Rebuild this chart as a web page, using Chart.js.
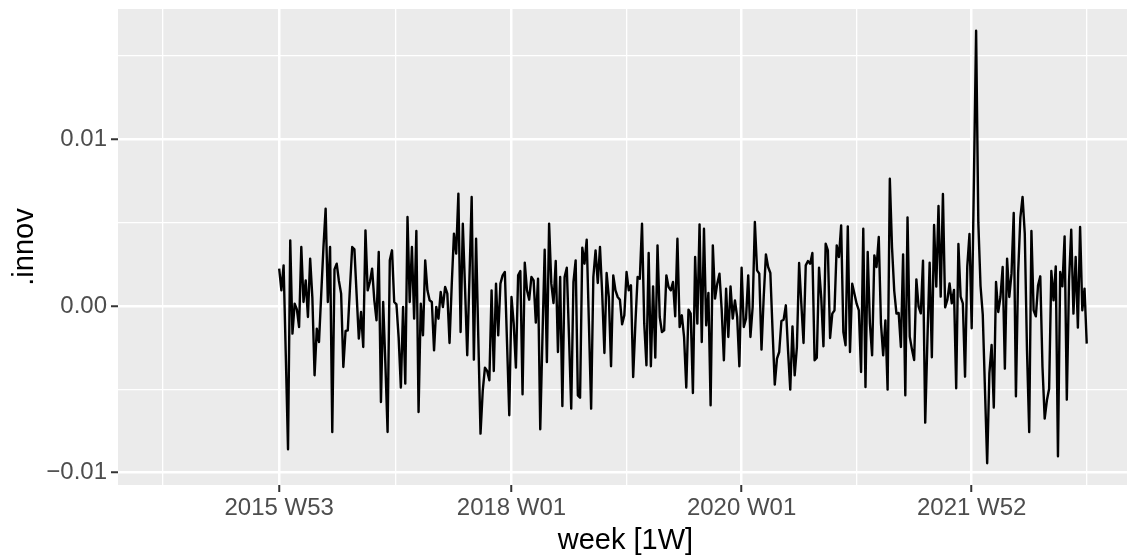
<!DOCTYPE html>
<html><head><meta charset="utf-8">
<script src="https://cdn.jsdelivr.net/npm/chart.js@4.4.1/dist/chart.umd.min.js"></script>
<style>html,body{margin:0;padding:0;background:#fff;overflow:hidden}canvas{display:block}</style>
</head><body>
<canvas id="c" width="1127" height="556"></canvas>
<script>
// first plotted week is 2015 W53; x = weeks since then
const startWeek = '2015 W53';
const innov = [
0.00224,0.00094,0.00244,-0.0030,-0.0086,0.00394,-0.00166,0.00014,-0.0002,-0.00126,
0.00354,0.00024,0.00154,-0.00066,0.00284,0.0005,-0.00416,-0.00136,-0.00216,0.0007,
0.0035,0.00584,0.00024,0.00354,-0.00756,0.0022,0.00254,0.0015,0.00074,-0.00366,
-0.0015,-0.00146,0.0011,0.00354,0.0034,0.0007,-0.00196,-0.00036,-0.00246,0.00454,
0.00094,0.00144,0.00224,0.00034,-0.00086,0.00324,-0.00576,0.00024,-0.00346,-0.00756,
0.00274,0.00334,0.00024,0.0001,-0.0019,-0.0049,-0.00006,-0.00466,0.00534,0.00024,
0.00354,-0.00076,0.0045,-0.00636,0.00014,-0.00176,0.00274,0.00094,0.00034,0.00024,
-0.00266,-0.00006,-0.00076,0.00084,-0.00006,0.00114,0.00074,-0.00222,0.0013,0.00434,
0.00314,0.00674,-0.00156,0.00494,0.0011,-0.00296,0.0017,0.00654,-0.00322,0.00404,
-0.0019,-0.00766,-0.0051,-0.0037,-0.0039,-0.00446,0.00094,-0.0039,0.00134,-0.00176,
0.00134,0.00184,0.00204,-0.00226,-0.00656,0.00054,-0.00106,-0.0037,0.00184,0.0021,
-0.0053,0.0026,0.00094,0.00038,0.00174,0.00154,-0.0010,0.00164,-0.0074,-0.00186,
0.00338,-0.00336,0.00494,0.00134,0.00018,0.0027,-0.00276,0.00174,-0.0060,0.00174,
0.0023,-0.00186,-0.00616,0.00144,0.00274,-0.00536,-0.0055,0.0035,0.00254,0.00398,
-0.00106,-0.00616,0.00174,0.00334,0.00138,0.00354,0.00074,-0.00282,0.00198,0.00054,
-0.00362,0.00184,0.00094,0.00054,0.00038,-0.0011,-0.00056,0.00204,0.00094,0.00124,
-0.00426,-0.00106,0.00174,0.00164,0.00494,-0.00106,-0.00356,0.00318,-0.00362,0.00118,
-0.0031,0.00364,-0.00066,-0.00156,-0.00146,0.00184,0.00114,0.00094,0.00144,-0.00062,
0.00404,-0.00126,-0.00056,-0.00186,-0.0049,-0.00022,-0.00046,-0.00522,0.00294,-0.00106,
0.0049,-0.00216,0.00464,-0.00116,0.00078,-0.00596,0.00364,0.00044,0.00134,0.00194,
-0.0002,-0.00326,0.00104,-0.00186,0.00118,-0.00076,0.00034,-0.00066,-0.00362,0.0023,
-0.00126,-0.00076,0.00184,-0.00186,-0.00006,0.00504,0.00214,0.00194,-0.00262,0.00054,
0.0031,0.00234,0.00198,-0.00146,-0.00472,-0.00316,-0.00276,-0.0009,-0.00082,0.00004,
-0.00266,-0.00502,-0.00122,-0.00416,-0.00246,0.00258,0.00014,-0.00222,0.00244,0.0027,
0.00254,0.00318,-0.00326,-0.0031,0.0023,0.0005,-0.00242,0.00374,0.00334,-0.00192,
-0.00046,-0.00026,0.00364,0.00294,0.00484,-0.00156,-0.00236,0.00478,-0.00276,0.00134,
0.00074,0.00014,-0.00026,-0.00396,0.00464,-0.00486,0.00324,-0.00106,-0.00296,0.00304,
0.00234,0.00414,-0.00106,-0.00296,-0.00086,-0.00502,0.00764,0.0035,0.0009,-0.00046,
-0.00042,-0.00246,0.0031,-0.00536,0.00532,-0.00184,-0.0026,-0.00324,0.0016,-0.00004,
-0.00044,0.00272,-0.0070,-0.0020,0.0026,-0.00308,0.00486,0.00116,0.0060,0.00056,
0.00672,-0.00008,0.00036,0.00136,0.00016,0.00096,-0.00494,0.00372,0.00056,0.00016,
-0.00424,0.00236,0.00432,-0.00134,0.0075,0.01652,0.0050,0.0012,-0.0005,-0.0050,
-0.00944,-0.00404,-0.00234,-0.0061,0.00144,-0.00036,0.00054,0.00234,-0.00376,0.00284,
0.00054,0.00194,0.00558,-0.00542,0.0020,0.0053,0.00654,0.00434,-0.00266,-0.00756,
0.0045,-0.00026,-0.00062,0.00124,0.00178,-0.00366,-0.00676,-0.00566,-0.00496,0.0021,
0.00034,0.00238,-0.00902,0.00204,0.00118,0.00418,-0.00562,0.0015,0.00458,-0.00046,
0.00294,-0.0013,0.00474,-0.00026,0.00104,-0.00226
];
const xTickWeeks = [0, 105, 209, 313];
const xTickLabels = ['2015 W53', '2018 W01', '2020 W01', '2021 W52'];
const xMinorWeeks = [-52.5, 52.5, 157, 261, 365];
const yTickValues = [-0.01, 0, 0.01];
const yTickLabels = ['\u22120.01', '0.00', '0.01'];
const yMinorValues = [-0.005, 0.005, 0.015];
const xPanelRange = [-72.85, 385.85];   // full panel (right part falls outside the picture)
const xVisibleMax = 383.2;
const yRange = [-0.01074, 0.01782];
const xTitle = 'week [1W]';
const yTitle = '.innov';

const FONT = '"Liberation Sans", Arial, Helvetica, sans-serif';
const points = innov.map((v, i) => ({x: i, y: v}));

function buildTicks(majors, minors) {
  const t = majors.map(v => ({value: v, isMinor: false}))
    .concat(minors.map(v => ({value: v, isMinor: true})));
  t.sort((a, b) => a.value - b.value);
  return t;
}
function labelFor(majors, labels, v) {
  const k = majors.findIndex(m => Math.abs(m - v) < 1e-9);
  return k >= 0 ? labels[k] : '';
}

const panelBg = {
  id: 'panelBg',
  beforeDraw(chart) {
    const a = chart.chartArea, c = chart.ctx;
    c.save();
    c.fillStyle = '#EBEBEB';
    c.fillRect(a.left, a.top, a.right - a.left, a.bottom - a.top);
    c.restore();
  }
};
const titles = {
  id: 'titles',
  afterDraw(chart) {
    const c = chart.ctx, a = chart.chartArea, xs = chart.scales.x;
    c.save();
    c.fillStyle = '#000000';
    c.font = '29px ' + FONT;
    c.textAlign = 'center';
    c.textBaseline = 'alphabetic';
    const cx = xs.getPixelForValue((xPanelRange[0] + xPanelRange[1]) / 2);
    c.fillText(xTitle, cx, 549);
    c.translate(33, (a.top + a.bottom) / 2);
    c.rotate(-Math.PI / 2);
    c.fillText(yTitle, 0, 0);
    c.restore();
  }
};

new Chart(document.getElementById('c'), {
  type: 'line',
  data: {datasets: [{
    data: points, borderColor: '#000000', borderWidth: 2.4, pointRadius: 0,
    tension: 0, fill: false, borderJoinStyle: 'round', borderCapStyle: 'butt'
  }]},
  options: {
    responsive: false, animation: false, devicePixelRatio: 1,
    layout: {padding: {top: 9, left: 0, right: 0, bottom: 0}},
    plugins: {legend: {display: false}, tooltip: {enabled: false}},
    scales: {
      x: {
        type: 'linear', min: xPanelRange[0], max: xVisibleMax,
        afterBuildTicks: s => { s.ticks = buildTicks(xTickWeeks, xMinorWeeks); },
        afterFit: s => { s.height = 71; s.paddingLeft = 0; s.paddingRight = 0; },
        ticks: {
          autoSkip: false, maxRotation: 0, minRotation: 0, padding: 2,
          color: '#4D4D4D', font: {family: FONT, size: 24},
          callback: v => labelFor(xTickWeeks, xTickLabels, v)
        },
        grid: {
          color: '#FFFFFF',
          lineWidth: ctx => (ctx.tick && ctx.tick.isMinor) ? 1.3 : 2.5,
          tickLength: 7,
          tickColor: ctx => (ctx.tick && ctx.tick.isMinor) ? 'rgba(0,0,0,0)' : '#333333',
          tickWidth: 2
        },
        border: {display: false}
      },
      y: {
        type: 'linear', min: yRange[0], max: yRange[1],
        afterBuildTicks: s => { s.ticks = buildTicks(yTickValues, yMinorValues); },
        afterFit: s => { s.width = 118; s.paddingTop = 0; s.paddingBottom = 0; },
        ticks: {
          autoSkip: false, padding: 4,
          color: '#4D4D4D', font: {family: FONT, size: 24},
          callback: v => labelFor(yTickValues, yTickLabels, v)
        },
        grid: {
          color: '#FFFFFF',
          lineWidth: ctx => (ctx.tick && ctx.tick.isMinor) ? 1.3 : 2.5,
          tickLength: 7,
          tickColor: ctx => (ctx.tick && ctx.tick.isMinor) ? 'rgba(0,0,0,0)' : '#333333',
          tickWidth: 2
        },
        border: {display: false}
      }
    }
  },
  plugins: [panelBg, titles]
});
</script>
</body></html>
